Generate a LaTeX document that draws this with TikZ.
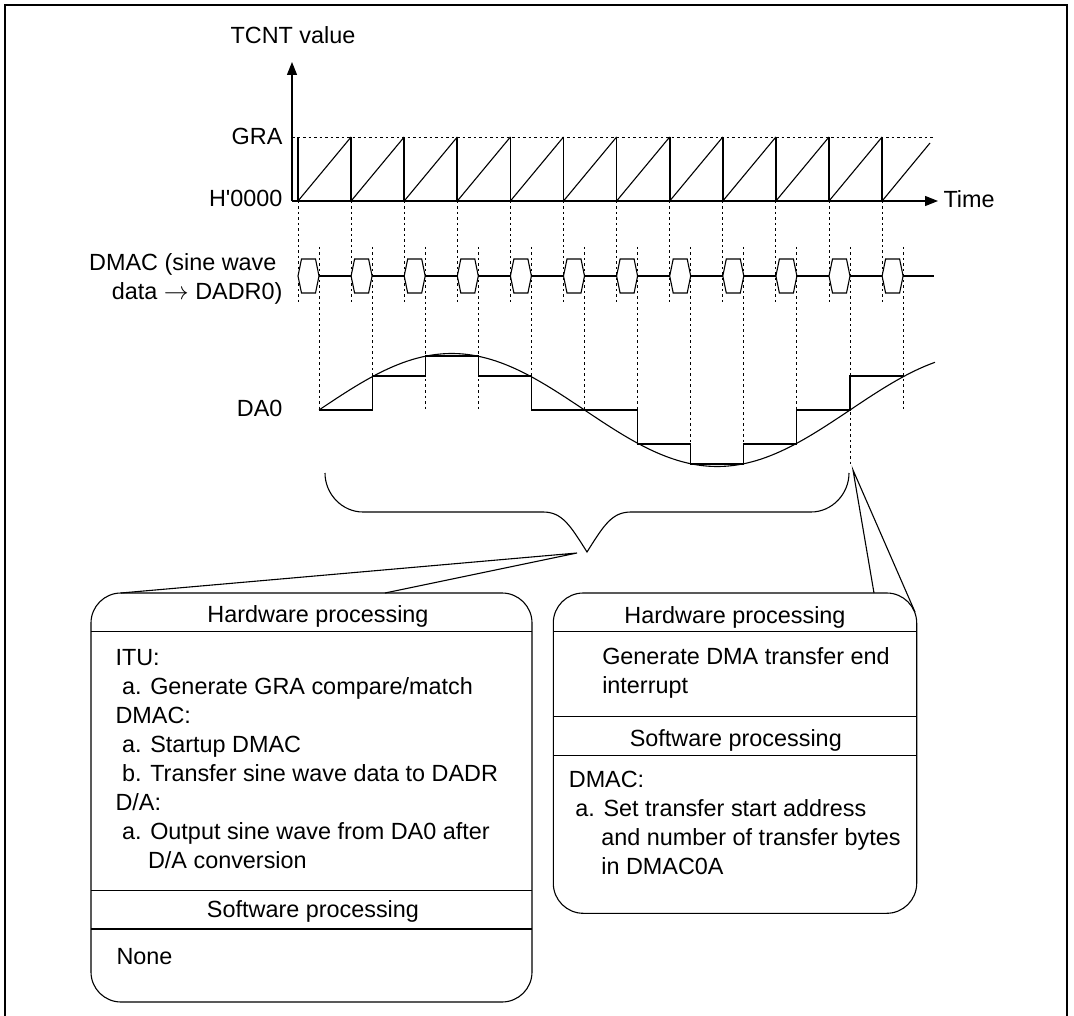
\documentclass[tikz,border=0pt]{standalone}
\usepackage{fontspec}
\setmainfont{Liberation Sans}
\usetikzlibrary{arrows.meta}
\newcommand{\indsp}{\hspace*{0.28em}}
\newcommand{\indhang}{\hspace*{1.39em}}

\begin{document}
\begin{tikzpicture}[x=1pt,y=-1pt,line width=1.1pt,
  lbl/.style={inner sep=0pt,font=\fontsize{23.4}{29}\selectfont},
  guide/.style={line width=0.9pt,dash pattern=on 2.5pt off 3pt},
  tooth/.style={line width=1.7pt},
  procbox/.style={rounded corners=30pt},
  axisarrow/.style={-{Triangle[length=13pt,width=10pt]}}]
\useasboundingbox (0,0) rectangle (1074,1016);
\draw[line width=2.4pt] (5,5) rectangle (1067,1019);

% TCNT axes and sawtooth
\draw[axisarrow] (292,201) -- (292,62);
\draw[axisarrow] (292,201) -- (938,201);
\node[lbl,anchor=base] (tcnt) at (293,44) {TCNT value};
\node[lbl,anchor=base east] (gra) at (283,145) {GRA};
\node[lbl,anchor=base east] (hzero) at (283,207) {H\textquotesingle 0000};
\node[lbl,anchor=base west] (time) at (943,208) {Time};
\draw[guide] (292,137) -- (935,137);
\draw[tooth] (298,201) -- (298,137);
\foreach \k in {0,...,10}{
  \pgfmathsetmacro{\xa}{298+53.1*\k}
  \pgfmathsetmacro{\xb}{298+53.1*(\k+1)}
  \draw (\xa,201) -- (\xb,137);
  \draw[tooth] (\xb,137) -- (\xb,201);
}
\draw (882.1,201) -- (930,143);

% DMAC transfers
\node[lbl,anchor=north east,align=right] (dmac) at (283,253)
  {DMAC (sine wave\hspace*{6pt}\\data $\rightarrow$ DADR0)};
\foreach \k in {0,...,11}{
  \pgfmathsetmacro{\xa}{298+53.1*\k}
  \draw (\xa,276) -- ++(3.5,-17) -- ++(14,0) -- ++(3.5,17)
    -- ++(-3.5,17) -- ++(-14,0) -- cycle;
  \draw[guide] (\xa,201) -- (\xa,303);
}
\foreach \k in {0,...,10}{
  \pgfmathsetmacro{\xa}{319+53.1*\k}
  \pgfmathsetmacro{\xb}{298+53.1*(\k+1)}
  \draw (\xa,276) -- (\xb,276);
}
\draw (903.1,276) -- (934,276);
\foreach \k/\yend in {0/410,1/410,2/410,3/410,4/410,5/410,6/444,7/464,8/464,9/444,10/464,11/410}{
  \pgfmathsetmacro{\xc}{319+53.1*\k}
  \draw[guide] (\xc,247) -- (\xc,\yend);
}

% DA0 output
\node[lbl,anchor=base east] (da0) at (283,416) {DA0};
\draw plot[domain=319:935,samples=120,smooth] (\x,{410-56.5*sin((\x-319)/531*360)});
\draw (319,410) -- (372.1,410) -- (372.1,376) -- (425.2,376) -- (425.2,356)
  -- (478.3,356) -- (478.3,376) -- (531.4,376) -- (531.4,410) -- (637.6,410)
  -- (637.6,444) -- (690.7,444) -- (690.7,464) -- (743.8,464) -- (743.8,444)
  -- (796.9,444) -- (796.9,410) -- (850,410) -- (850,376) -- (903.1,376);

% brace and callout lines
\draw (325,473) .. controls (325,494) and (342,512) .. (363,512) -- (543,512)
  .. controls (562,512) and (570,525) .. (587,552)
  .. controls (604,525) and (612,512) .. (631,512) -- (811,512)
  .. controls (832,512) and (849,494) .. (849,473);
\coordinate (ltip) at (577,553);
\coordinate (rtip) at (853,470);
\coordinate (lboxa) at (121,593);
\coordinate (lboxb) at (385,593);
\coordinate (rboxa) at (874,593);
\coordinate (rboxb) at (915,612);
\draw (lboxa) -- (ltip) -- (lboxb);
\draw (rboxa) -- (rtip) -- (rboxb);

% left processing box
\draw[procbox] (91,593) rectangle (532,1002);
\draw (91,631.7) -- (532,631.7);
\draw (91,890.7) -- (532,890.7);
\draw (91,929) -- (532,929);
\node[lbl,anchor=base] (hwlh) at (318,622) {Hardware processing};
\node[lbl,anchor=north west,align=left] (hwl) at (115,649.3)
  {ITU:\\\indsp a. Generate GRA compare/match\\DMAC:\\\indsp a. Startup DMAC\\
   \indsp b. Transfer sine wave data to DADR\\D/A:\\
   \indsp a. Output sine wave from DA0 after\\\indhang D/A conversion};
\node[lbl,anchor=base] (swlh) at (313,917) {Software processing};
\node[lbl,anchor=base west] (swl) at (116,964) {None};

% right processing box
\draw[procbox] (553.3,593) rectangle (916.7,913.3);
\draw (553.3,631.7) -- (916.7,631.7);
\draw (553.3,716.7) -- (916.7,716.7);
\draw (553.3,755.7) -- (916.7,755.7);
\node[lbl,anchor=base] (hwrh) at (735,623) {Hardware processing};
\node[lbl,anchor=north west,align=left] (hwr) at (601.7,647)
  {Generate DMA transfer end\\interrupt};
\node[lbl,anchor=base] (swrh) at (735.8,746) {Software processing};
\node[lbl,anchor=north west,align=left] (swr) at (568.3,770.2)
  {DMAC:\\\indsp a. Set transfer start address\\
   \indhang and number of transfer bytes\\\indhang in DMAC0A};
\end{tikzpicture}
\end{document}
